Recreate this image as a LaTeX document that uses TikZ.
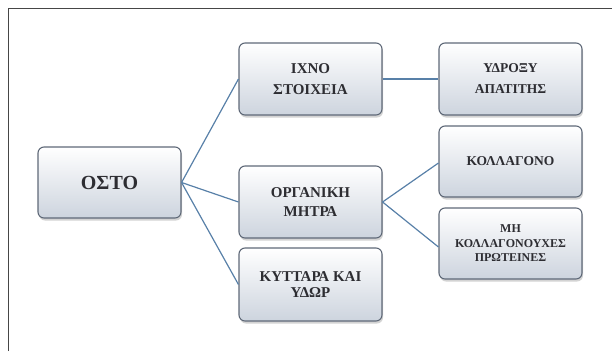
\documentclass[tikz,border=0pt]{standalone}
\usepackage{fontspec}
\setmainfont{Liberation Serif}
\usetikzlibrary{shadows}
\definecolor{linec}{RGB}{88,128,168}
\definecolor{boxdraw}{RGB}{95,105,120}
\definecolor{boxbot}{RGB}{205,212,222}
\definecolor{txt}{RGB}{45,45,50}
\definecolor{framec}{RGB}{70,70,70}
\tikzset{
 box/.style={draw=boxdraw, line width=1.1pt, rounded corners=6pt, top color=white, bottom color=boxbot,
   minimum width=143pt, minimum height=72pt, inner sep=0pt, align=center, text=txt,
   drop shadow={shadow xshift=1pt, shadow yshift=-2.5pt, opacity=0.35}},
 conn/.style={draw=linec, line width=1.2pt},
 fmid/.style={font=\fontsize{15}{21}\selectfont\bfseries},
 fright/.style={font=\fontsize{13.5}{21}\selectfont\bfseries},
}
\begin{document}
\begin{tikzpicture}[x=1pt,y=-1pt]
\useasboundingbox (0,0) rectangle (612,351);
\draw[framec, line width=1pt] (8,351) -- (8,8) -- (612,8);
\node[box, minimum height=71pt, font=\fontsize{20}{24}\selectfont\bfseries] (osto) at (109.5,182.5) {ΟΣΤΟ};
\node[box, fmid] (ixno) at (310.5,79) {ΙΧΝΟ\\ΣΤΟΙΧΕΙΑ};
\node[box, fright] (ydr) at (510.5,79) {ΥΔΡΟΞΥ\\ΑΠΑΤΙΤΗΣ};
\node[box, font=\fontsize{15}{19}\selectfont\bfseries] (org) at (310.5,202) {ΟΡΓΑΝΙΚΗ\\ΜΗΤΡΑ};
\node[box, fright, minimum height=71pt] (koll) at (510.5,161.5) {\raisebox{-9pt}{ΚΟΛΛΑΓΟΝΟ}};
\node[box, minimum height=71pt, font=\fontsize{12}{14.5}\selectfont\bfseries] (mi) at (510.5,243.5) {ΜΗ\\ΚΟΛΛΑΓΟΝΟΥΧΕΣ\\ΠΡΩΤΕΙΝΕΣ};
\node[box, minimum height=73pt, font=\fontsize{15}{16}\selectfont\bfseries] (kyt) at (310.5,284.5) {ΚΥΤΤΑΡΑ ΚΑΙ\\ΥΔΩΡ};
\draw[conn] (osto.east) -- (ixno.west);
\draw[conn] (osto.east) -- (org.west);
\draw[conn] (osto.east) -- (kyt.west);
\draw[conn] (ixno.east) -- (ydr.west);
\draw[conn] (org.east) -- ([yshift=-1.5pt]koll.west);
\draw[conn] (org.east) -- ([yshift=-3.5pt]mi.west);
\end{tikzpicture}
\end{document}
